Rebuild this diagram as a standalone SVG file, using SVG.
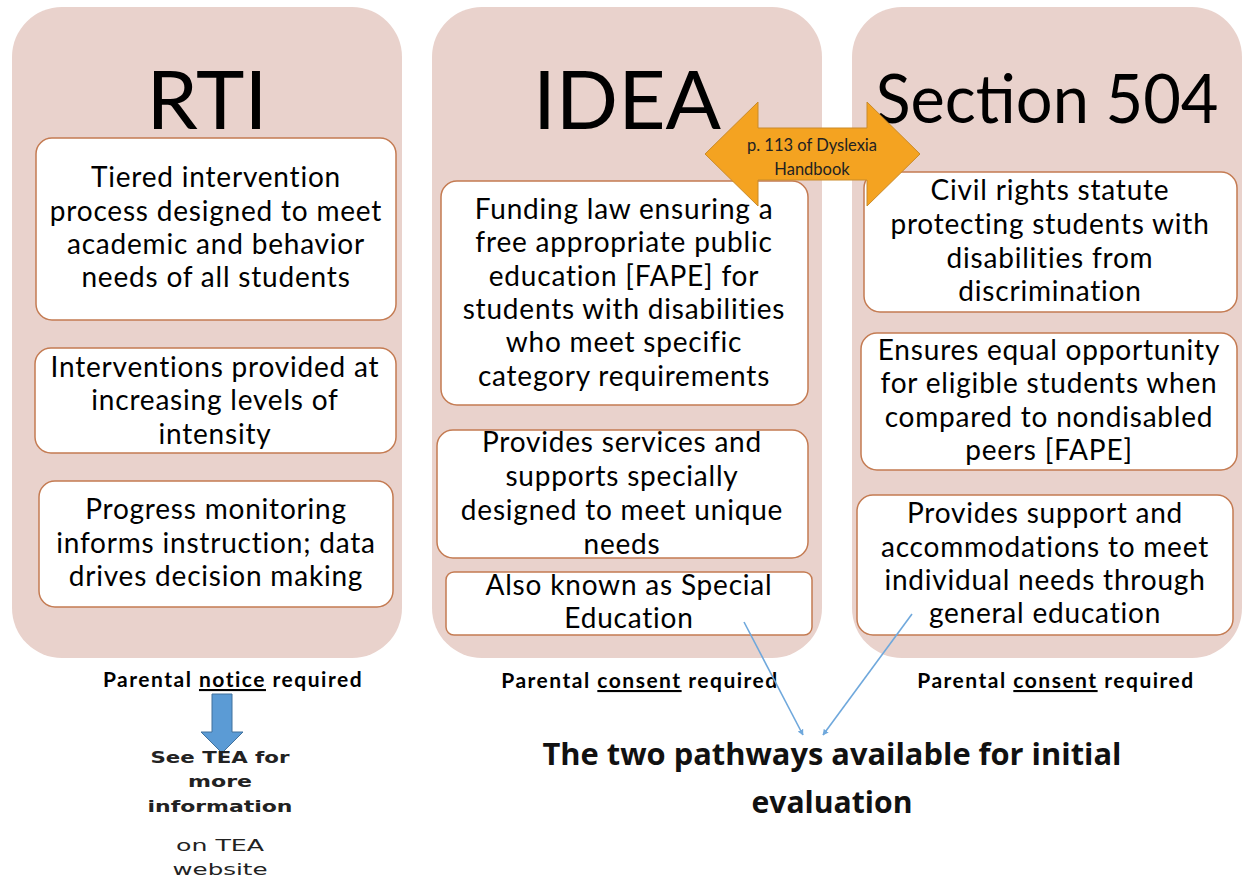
<svg xmlns="http://www.w3.org/2000/svg" width="1243" height="879" viewBox="0 0 1243 879">
<style>
.col{fill:#E9D2CC;}
.box{fill:#fff;stroke:#C47B52;stroke-width:1.5;}
.title{font-family:Lato,"Open Sans",sans-serif;font-size:82px;fill:#000;text-anchor:middle;}
.t{font-family:Lato,"Open Sans",sans-serif;font-size:28px;letter-spacing:0.8px;fill:#000;text-anchor:middle;}
.p{font-family:Lato,"Open Sans",sans-serif;font-size:21px;letter-spacing:1.5px;font-weight:bold;fill:#000;text-anchor:middle;}
.tea{font-family:"DejaVu Sans","Liberation Sans",sans-serif;font-size:16px;fill:#222;text-anchor:middle;}
.big{font-family:"Open Sans","Liberation Sans",sans-serif;font-size:31px;font-weight:bold;fill:#111;text-anchor:middle;}
.ol{font-family:Lato,"Open Sans",sans-serif;font-size:16.5px;fill:#222;text-anchor:middle;}
.conn{stroke:#6FA8DC;stroke-width:1.6;fill:none;marker-end:url(#ah);}
</style>
<defs>
<marker id="ah" viewBox="0 0 10 10" refX="9" refY="5" markerWidth="6" markerHeight="6" orient="auto" markerUnits="userSpaceOnUse">
<path d="M0,0 L10,5 L0,10 z" fill="#6FA8DC"/>
</marker>
</defs>
<rect width="1243" height="879" fill="#fff"/>

<g id="rti">
<rect class="col" x="12" y="7" width="390" height="651" rx="50"/>
<text class="title" x="207" y="129">RTI</text>
<rect class="box" x="36" y="138" width="360" height="182" rx="16"/>
<text class="t" x="216" y="187">Tiered intervention</text>
<text class="t" x="216" y="221">process designed to meet</text>
<text class="t" x="216" y="254">academic and behavior</text>
<text class="t" x="216" y="287">needs of all students</text>
<rect class="box" x="35" y="348" width="361" height="105" rx="16"/>
<text class="t" x="215" y="377">Interventions provided at</text>
<text class="t" x="215" y="410">increasing levels of</text>
<text class="t" x="215" y="444">intensity</text>
<rect class="box" x="39" y="481" width="354" height="126" rx="16"/>
<text class="t" x="216" y="519">Progress monitoring</text>
<text class="t" x="216" y="553">informs instruction; data</text>
<text class="t" x="216" y="586">drives decision making</text>
</g>

<g id="idea">
<rect class="col" x="432" y="7" width="390" height="651" rx="50"/>
<text class="title" x="627" y="129">IDEA</text>
<rect class="box" x="441" y="181" width="367" height="224" rx="16"/>
<text class="t" x="624" y="219">Funding law ensuring a</text>
<text class="t" x="624" y="252">free appropriate public</text>
<text class="t" x="624" y="286">education [FAPE] for</text>
<text class="t" x="624" y="319">students with disabilities</text>
<text class="t" x="624" y="352">who meet specific</text>
<text class="t" x="624" y="386">category requirements</text>
<rect class="box" x="437" y="430" width="371" height="128" rx="16"/>
<text class="t" x="622" y="452">Provides services and</text>
<text class="t" x="622" y="486">supports specially</text>
<text class="t" x="622" y="520">designed to meet unique</text>
<text class="t" x="622" y="554">needs</text>
<rect class="box" x="446" y="572" width="366" height="63" rx="8"/>
<text class="t" x="629" y="595">Also known as Special</text>
<text class="t" x="629" y="628">Education</text>
</g>

<g id="section504">
<rect class="col" x="852" y="7" width="390" height="651" rx="50"/>
<text class="title" x="1047" y="123" style="font-size:68px" textLength="343" lengthAdjust="spacingAndGlyphs">Section 504</text>
<rect class="box" x="864" y="172" width="373" height="140" rx="16"/>
<text class="t" x="1050" y="200">Civil rights statute</text>
<text class="t" x="1050" y="234">protecting students with</text>
<text class="t" x="1050" y="268">disabilities from</text>
<text class="t" x="1050" y="301">discrimination</text>
<rect class="box" x="861" y="333" width="376" height="137" rx="16"/>
<text class="t" x="1049" y="360">Ensures equal opportunity</text>
<text class="t" x="1049" y="393">for eligible students when</text>
<text class="t" x="1049" y="427">compared to nondisabled</text>
<text class="t" x="1049" y="460">peers [FAPE]</text>
<rect class="box" x="857" y="495" width="376" height="140" rx="16"/>
<text class="t" x="1045" y="523">Provides support and</text>
<text class="t" x="1045" y="557">accommodations to meet</text>
<text class="t" x="1045" y="590">individual needs through</text>
<text class="t" x="1045" y="623">general education</text>
</g>

<g id="dyslexia-arrow">
<path d="M705,154 L758,102 L758,128 L867,128 L867,102 L920,154 L867,206 L867,180 L758,180 L758,206 Z" fill="#F4A321" stroke="#C98A2A" stroke-width="1"/>
<text class="ol" x="812" y="151">p. 113 of Dyslexia</text>
<text class="ol" x="812" y="175">Handbook</text>
</g>

<g id="parental-labels">
<text class="p" x="233" y="687">Parental <tspan text-decoration="underline">notice</tspan> required</text>
<text class="p" x="640" y="688">Parental <tspan text-decoration="underline">consent</tspan> required</text>
<text class="p" x="1056" y="688">Parental <tspan text-decoration="underline">consent</tspan> required</text>
</g>

<g id="tea">
<path d="M212,694 L232,694 L232,732 L243,732 L222,753 L201,732 L212,732 Z" fill="#5B9BD5" stroke="#41719C" stroke-width="1"/>
<text class="tea" x="220" y="763" font-weight="bold" textLength="139" lengthAdjust="spacingAndGlyphs">See TEA for</text>
<text class="tea" x="220" y="787" font-weight="bold" textLength="64" lengthAdjust="spacingAndGlyphs">more</text>
<text class="tea" x="220" y="812" font-weight="bold" textLength="145" lengthAdjust="spacingAndGlyphs">information</text>
<text class="tea" x="220" y="851" textLength="88" lengthAdjust="spacingAndGlyphs">on TEA</text>
<text class="tea" x="220" y="875" textLength="95" lengthAdjust="spacingAndGlyphs">website</text>
</g>

<g id="pathways">
<text class="big" x="832" y="765" textLength="579" lengthAdjust="spacingAndGlyphs">The two pathways available for initial</text>
<text class="big" x="832" y="813" textLength="161" lengthAdjust="spacingAndGlyphs">evaluation</text>
</g>

<g id="connectors">
<line class="conn" x1="744" y1="622" x2="803" y2="735"/>
<line class="conn" x1="912" y1="614" x2="823" y2="735"/>
</g>
</svg>
